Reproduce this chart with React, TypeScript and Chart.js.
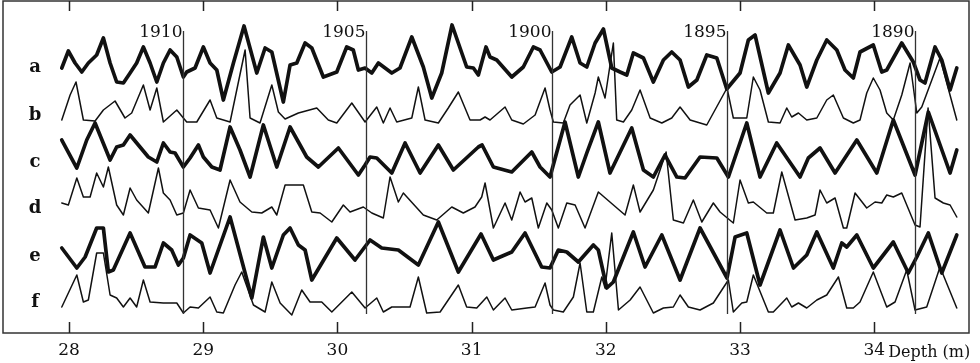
import { useEffect, useRef } from 'react';
import { Chart, registerables } from 'chart.js';
Chart.register(...registerables);

// Depth axis
const xTickValues = [28, 29, 30, 31, 32, 33, 34];
const xTickLabels = ['28', '29', '30', '31', '32', '33', '34'];
const axisTitle = 'Depth (m)';

// Year markers (depth of each annual boundary)
const yearLabels = ['1910', '1905', '1900', '1895', '1890'];
const yearDepths = [28.85, 30.211, 31.597, 32.905, 34.304];

const traceNames = ['a', 'b', 'c', 'd', 'e', 'f'];

// [depth (m), relative amplitude]
const traceA: [number, number][] = [
  [27.946, 32], [27.995, 49], [28.045, 37], [28.095, 28], [28.144, 37], [28.206, 45], [28.256, 62],
  [28.306, 37], [28.355, 18], [28.405, 17], [28.455, 27], [28.504, 37], [28.554, 53], [28.604, 37],
  [28.654, 18], [28.703, 37], [28.753, 50], [28.803, 43], [28.852, 23], [28.877, 28], [28.939, 32],
  [29.001, 53], [29.051, 37], [29.101, 30], [29.15, 0], [29.225, 37], [29.304, 74], [29.399, 27],
  [29.461, 52], [29.511, 48], [29.597, -2], [29.647, 35], [29.697, 37], [29.759, 57], [29.809, 52],
  [29.895, 23], [29.995, 28], [30.069, 53], [30.118, 50], [30.156, 30], [30.206, 32], [30.256, 27],
  [30.305, 37], [30.405, 27], [30.466, 32], [30.554, 63], [30.64, 33], [30.703, 2], [30.777, 27],
  [30.854, 75], [30.963, 33], [31.013, 32], [31.05, 25], [31.107, 53], [31.137, 43], [31.187, 40],
  [31.299, 23], [31.385, 33], [31.46, 53], [31.51, 50], [31.597, 28], [31.659, 33], [31.746, 63],
  [31.808, 37], [31.858, 33], [31.92, 57], [31.982, 71], [32.044, 32], [32.106, 28], [32.156, 25],
  [32.205, 47], [32.28, 42], [32.354, 18], [32.429, 40], [32.491, 48], [32.553, 40], [32.615, 13],
  [32.678, 20], [32.752, 45], [32.827, 42], [32.901, 11], [33.0, 27], [33.062, 60], [33.112, 65],
  [33.211, 7], [33.298, 27], [33.36, 55], [33.447, 35], [33.497, 13], [33.572, 40], [33.646, 60],
  [33.721, 50], [33.782, 30], [33.844, 22], [33.894, 48], [33.993, 55], [34.056, 28], [34.093, 30],
  [34.205, 57], [34.291, 38], [34.341, 20], [34.378, 17], [34.453, 53], [34.503, 40], [34.565, 10],
  [34.615, 32],
];

const traceB: [number, number][] = [
  [27.946, 5], [28.008, 30], [28.052, 43], [28.107, 5], [28.194, 4], [28.256, 15], [28.343, 24],
  [28.417, 7], [28.467, 12], [28.554, 40], [28.604, 15], [28.654, 37], [28.703, 3], [28.803, 15],
  [28.852, 7], [28.877, 3], [28.952, 3], [29.051, 25], [29.101, 7], [29.2, 3], [29.312, 75],
  [29.349, 7], [29.423, 2], [29.511, 40], [29.56, 13], [29.61, 6], [29.709, 12], [29.846, 17],
  [29.932, 5], [29.995, 2], [30.107, 22], [30.206, 3], [30.293, 18], [30.342, 2], [30.392, 17],
  [30.442, 3], [30.554, 7], [30.603, 38], [30.653, 5], [30.752, 2], [30.826, 17], [30.901, 33],
  [30.988, 5], [31.063, 5], [31.1, 8], [31.137, 5], [31.249, 18], [31.299, 5], [31.385, 1],
  [31.473, 10], [31.547, 37], [31.584, 15], [31.609, 3], [31.683, 2], [31.733, 20], [31.808, 30],
  [31.858, 2], [31.92, 32], [31.944, 48], [31.994, 27], [32.056, 82], [32.081, 5], [32.131, 3],
  [32.193, 15], [32.255, 35], [32.33, 7], [32.417, 2], [32.491, 7], [32.553, 18], [32.628, 5],
  [32.752, 0], [32.903, 37], [32.95, 7], [33.05, 7], [33.099, 48], [33.149, 35], [33.211, 3],
  [33.298, 2], [33.348, 17], [33.385, 8], [33.435, 12], [33.497, 5], [33.572, 7], [33.646, 25],
  [33.695, 30], [33.77, 7], [33.844, 2], [33.894, 5], [33.944, 32], [33.993, 47], [34.043, 35],
  [34.093, 12], [34.142, 5], [34.205, 30], [34.267, 62], [34.317, 12], [34.354, 18], [34.49, 67],
  [34.615, 5],
];

const traceC: [number, number][] = [
  [27.946, 38], [28.058, 10], [28.132, 38], [28.194, 55], [28.306, 18], [28.355, 31], [28.405, 33],
  [28.455, 43], [28.529, 31], [28.591, 21], [28.654, 16], [28.703, 35], [28.753, 26], [28.79, 25],
  [28.852, 11], [28.902, 20], [28.964, 33], [29.001, 21], [29.064, 11], [29.125, 8], [29.2, 51],
  [29.274, 28], [29.349, 1], [29.448, 53], [29.548, 11], [29.647, 51], [29.771, 21], [29.858, 11],
  [30.007, 30], [30.156, 3], [30.206, 13], [30.243, 21], [30.293, 20], [30.405, 5], [30.504, 35],
  [30.616, 5], [30.752, 33], [30.864, 8], [31.05, 31], [31.078, 33], [31.162, 11], [31.299, 6],
  [31.448, 26], [31.51, 11], [31.584, 1], [31.696, 56], [31.795, 1], [31.858, 25], [31.944, 56],
  [32.031, 5], [32.193, 50], [32.28, 8], [32.354, 1], [32.441, 23], [32.529, 1], [32.59, 0],
  [32.702, 21], [32.827, 20], [32.913, 1], [33.05, 55], [33.149, 1], [33.273, 35], [33.447, 1],
  [33.509, 20], [33.596, 30], [33.708, 5], [33.87, 38], [34.019, 5], [34.142, 58], [34.304, 3],
  [34.403, 66], [34.565, 5], [34.615, 28],
];

const traceD: [number, number][] = [
  [27.946, 27], [27.995, 25], [28.058, 52], [28.107, 33], [28.157, 33], [28.206, 57], [28.256, 43],
  [28.293, 63], [28.355, 25], [28.405, 15], [28.455, 42], [28.504, 30], [28.591, 17], [28.666, 62],
  [28.703, 37], [28.753, 30], [28.803, 15], [28.852, 17], [28.902, 40], [28.964, 22], [29.051, 20],
  [29.113, 2], [29.2, 50], [29.274, 28], [29.362, 18], [29.436, 17], [29.511, 23], [29.548, 15],
  [29.61, 45], [29.746, 45], [29.809, 18], [29.871, 17], [29.958, 8], [30.044, 25], [30.094, 18],
  [30.193, 23], [30.256, 17], [30.342, 12], [30.392, 53], [30.454, 28], [30.491, 37], [30.64, 15],
  [30.74, 10], [30.852, 23], [30.938, 17], [31.025, 23], [31.075, 33], [31.1, 47], [31.162, 2],
  [31.249, 27], [31.299, 10], [31.361, 38], [31.398, 28], [31.448, 32], [31.497, 2], [31.56, 27],
  [31.597, 20], [31.646, 2], [31.709, 27], [31.771, 25], [31.845, 2], [31.944, 38], [32.143, 15],
  [32.205, 45], [32.255, 18], [32.354, 40], [32.449, 78], [32.503, 10], [32.578, 7], [32.652, 30],
  [32.715, 8], [32.801, 27], [32.851, 18], [32.95, 7], [33.0, 50], [33.062, 27], [33.099, 28],
  [33.199, 17], [33.248, 17], [33.311, 58], [33.41, 10], [33.497, 12], [33.559, 15], [33.596, 40],
  [33.646, 27], [33.708, 32], [33.77, 2], [33.795, 2], [33.857, 37], [33.944, 22], [34.006, 28],
  [34.056, 27], [34.093, 35], [34.142, 33], [34.205, 37], [34.304, 5], [34.341, 3], [34.401, 122],
  [34.453, 32], [34.515, 27], [34.565, 25], [34.615, 13],
];

const traceE: [number, number][] = [
  [27.946, 52], [28.058, 32], [28.12, 43], [28.206, 72], [28.256, 72], [28.293, 28], [28.33, 30],
  [28.455, 67], [28.566, 33], [28.641, 33], [28.703, 57], [28.765, 50], [28.815, 35], [28.852, 42],
  [28.902, 65], [28.989, 57], [29.051, 27], [29.2, 83], [29.362, 2], [29.448, 63], [29.511, 32],
  [29.597, 65], [29.647, 72], [29.709, 55], [29.759, 50], [29.809, 20], [29.995, 62], [30.131, 40],
  [30.243, 60], [30.33, 52], [30.454, 50], [30.603, 35], [30.752, 78], [30.901, 28], [31.07, 66],
  [31.162, 40], [31.212, 43], [31.299, 48], [31.398, 67], [31.522, 33], [31.584, 32], [31.646, 50],
  [31.709, 48], [31.795, 38], [31.907, 55], [31.944, 50], [32.007, 12], [32.056, 18], [32.205, 68],
  [32.292, 33], [32.417, 65], [32.553, 20], [32.702, 72], [32.903, 22], [32.963, 63], [33.05, 67],
  [33.149, 15], [33.298, 70], [33.398, 32], [33.497, 45], [33.572, 68], [33.695, 32], [33.758, 57],
  [33.795, 53], [33.87, 65], [33.993, 32], [34.142, 58], [34.254, 27], [34.317, 43], [34.403, 67],
  [34.503, 27], [34.615, 65],
];

const traceF: [number, number][] = [
  [27.946, 9], [28.058, 41], [28.107, 14], [28.144, 16], [28.206, 63], [28.256, 63], [28.306, 21],
  [28.355, 18], [28.405, 9], [28.455, 18], [28.504, 9], [28.554, 36], [28.604, 14], [28.703, 13],
  [28.803, 13], [28.852, 3], [28.902, 9], [28.964, 8], [29.051, 19], [29.101, 4], [29.15, 3],
  [29.237, 31], [29.287, 44], [29.374, 11], [29.461, 4], [29.511, 34], [29.573, 13], [29.66, 1],
  [29.734, 26], [29.796, 14], [29.883, 14], [29.958, 4], [30.107, 24], [30.206, 8], [30.293, 18],
  [30.342, 4], [30.405, 9], [30.541, 9], [30.603, 39], [30.665, 3], [30.765, 4], [30.901, 31],
  [30.963, 9], [31.038, 8], [31.113, 19], [31.162, 6], [31.249, 18], [31.299, 6], [31.411, 8],
  [31.473, 9], [31.547, 33], [31.584, 11], [31.609, 6], [31.683, 4], [31.758, 19], [31.808, 53],
  [31.858, 4], [31.907, 4], [31.97, 39], [31.994, 28], [32.044, 83], [32.094, 6], [32.181, 16],
  [32.255, 29], [32.354, 3], [32.429, 8], [32.503, 9], [32.553, 21], [32.615, 9], [32.702, 6],
  [32.801, 13], [32.913, 36], [32.95, 4], [33.013, 13], [33.05, 14], [33.099, 41], [33.211, 4],
  [33.248, 4], [33.348, 18], [33.385, 9], [33.435, 13], [33.497, 8], [33.572, 16], [33.646, 21],
  [33.733, 39], [33.795, 8], [33.844, 8], [33.894, 14], [33.993, 44], [34.093, 9], [34.155, 14],
  [34.242, 46], [34.304, 6], [34.391, 9], [34.49, 49], [34.615, 8],
];

const traces = [traceA, traceB, traceC, traceD, traceE, traceF];

// Layout / style (not data)
const AREA = { left: 3, top: 1, right: 969, bottom: 333 };
const bandBase = [100, 125, 178, 230, 300, 316];
const labelBaselines = [72, 120, 167, 213, 261, 307];
const INK = '#111';

const overlay = {
  id: 'overlay',
  afterDatasetsDraw(chart: any) {
    const { ctx, chartArea: ca, scales } = chart;
    const xs = scales.x;
    ctx.save();
    // frame
    ctx.strokeStyle = '#333';
    ctx.lineWidth = 1.5;
    ctx.strokeRect(ca.left, ca.top, ca.right - ca.left, ca.bottom - ca.top);
    // inward ticks top & bottom
    ctx.lineWidth = 1.5;
    ctx.strokeStyle = '#222';
    xTickValues.forEach((v) => {
      const px = Math.round(xs.getPixelForValue(v)) + 0.5;
      ctx.beginPath();
      ctx.moveTo(px, ca.bottom);
      ctx.lineTo(px, ca.bottom - 11);
      ctx.moveTo(px, ca.top);
      ctx.lineTo(px, ca.top + 10);
      ctx.stroke();
    });
    // year lines & labels
    ctx.font = '17px "DejaVu Serif"';
    ctx.fillStyle = INK;
    ctx.textAlign = 'right';
    ctx.textBaseline = 'alphabetic';
    yearDepths.forEach((d, i) => {
      const px = Math.round(xs.getPixelForValue(d)) + 0.5;
      ctx.strokeStyle = '#333';
      ctx.lineWidth = 1.3;
      ctx.beginPath();
      ctx.moveTo(px, 31);
      ctx.lineTo(px, 314);
      ctx.stroke();
      ctx.fillText(yearLabels[i], px - 1, 37);
    });
    // trace letters
    ctx.font = 'bold 18px "DejaVu Serif"';
    ctx.textAlign = 'center';
    traceNames.forEach((n, i) => ctx.fillText(n, 35, labelBaselines[i]));
    // axis title after last tick
    ctx.font = '16px "DejaVu Serif"';
    ctx.textAlign = 'left';
    const p34 = xs.getPixelForValue(xTickValues[xTickValues.length - 1]);
    ctx.fillText(axisTitle, p34 + 14, 357);
    ctx.restore();
  },
};

export default function App() {
  const ref = useRef<HTMLCanvasElement>(null);
  useEffect(() => {
    if (!ref.current) return;
    const yAxes: any = {};
    traces.forEach((_, i) => {
      yAxes['y' + i] = {
        type: 'linear',
        display: false,
        min: bandBase[i] - AREA.bottom,
        max: bandBase[i] - AREA.top,
      };
    });
    const chart = new Chart(ref.current, {
      type: 'line',
      data: {
        datasets: traces.map((t, i) => ({
          label: traceNames[i],
          data: t.map(([x, y]) => ({ x, y })),
          yAxisID: 'y' + i,
          borderColor: INK,
          borderWidth: i % 2 === 0 ? 3.7 : 1.5,
          borderJoinStyle: 'round' as const,
          borderCapStyle: 'round' as const,
          pointRadius: 0,
          tension: 0,
          fill: false,
        })),
      },
      options: {
        animation: false,
        responsive: false,
        devicePixelRatio: 1,
        layout: { padding: { left: AREA.left, top: AREA.top, right: 980 - AREA.right, bottom: 0 } },
        plugins: { legend: { display: false }, tooltip: { enabled: false } },
        scales: {
          x: {
            type: 'linear',
            position: 'bottom',
            min: 27.508,
            max: 34.706,
            grid: { display: false, drawTicks: false },
            border: { display: false },
            afterBuildTicks: (scale: any) => {
              scale.ticks = xTickValues.map((v) => ({ value: v }));
            },
            afterFit: (scale: any) => {
              scale.height = 363 - AREA.bottom;
            },
            ticks: {
              autoSkip: false,
              maxRotation: 0,
              padding: 7,
              color: INK,
              font: { family: '"DejaVu Serif"', size: 17 },
              callback: (_v: any, idx: number) => xTickLabels[idx],
            },
          },
          ...yAxes,
        },
      },
      plugins: [overlay],
    });
    return () => chart.destroy();
  }, []);
  return (
    <div style={{ position: 'absolute', left: 0, top: 0, width: 980, height: 363, background: '#fff' }}>
      <canvas ref={ref} width={980} height={363} style={{ display: 'block' }} />
    </div>
  );
}
